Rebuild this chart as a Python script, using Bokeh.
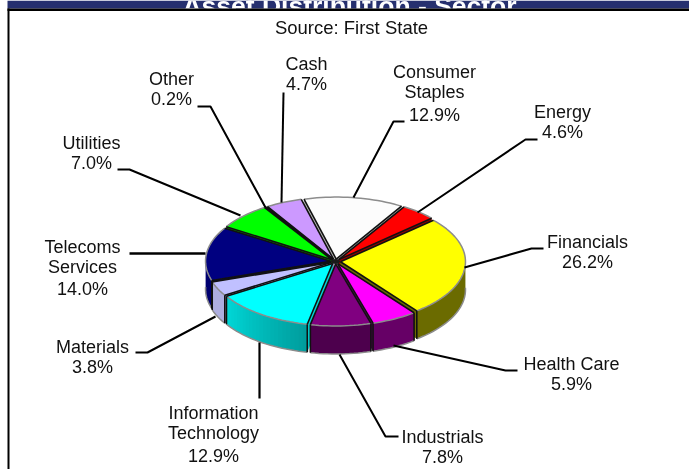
import math
from bokeh.plotting import figure
from bokeh.models import Range1d
from bokeh.core.properties import value
from bokeh.embed import file_html
from bokeh.resources import INLINE

# ---- data ----
sectors = ["Energy", "Financials", "Health Care", "Industrials", "Information Technology",
           "Materials", "Telecoms Services", "Utilities", "Other", "Cash", "Consumer Staples"]
weights = [4.6, 26.2, 5.9, 7.8, 12.9, 3.8, 14.0, 7.0, 0.2, 4.7, 12.9]
title_text = "Asset Distribution - Sector"
source_text = "Source: First State"

# ---- styles ----
top_colors = ["#ff0000", "#ffff00", "#ff00ff", "#800080", "#00ffff", "#c0c0ff",
              "#000080", "#00ff00", "#333333", "#cc99ff", "#fcfcfc"]
wall_from = ["#990000", "#6b6b00", "#660066", "#4d004d", "#00d8d8", "#aeaee0",
             "#000070", "#009900", "#222222", "#8a66b0", "#c0c0c0"]
wall_to = ["#990000", "#6b6b00", "#660066", "#4d004d", "#009c9c", "#aeaee0",
           "#000070", "#009900", "#222222", "#8a66b0", "#c0c0c0"]

# ---- layout: pie projection and annotation positions, in page pixels ----
CX, CY, RX, RY, DEPTH, EXPLODE = 335, 261, 125, 62, 28, 5
START_DEG = 31.5
label_lines = {
    "Energy": (["Energy"], [112], 562, 132),
    "Financials": (["Financials"], [242], 587, 262),
    "Health Care": (["Health Care"], [364], 571, 384),
    "Industrials": (["Industrials"], [437], 442, 457),
    "Information Technology": (["Information", "Technology"], [413, 433], 213, 456),
    "Materials": (["Materials"], [347], 92, 367),
    "Telecoms Services": (["Telecoms", "Services"], [247, 267], 82, 289),
    "Utilities": (["Utilities"], [143], 91, 163),
    "Other": (["Other"], [79], 171, 99),
    "Cash": (["Cash"], [64], 306, 84),
    "Consumer Staples": (["Consumer", "Staples"], [72, 92], 434, 115),
}
leaders = {
    "Energy": ([417, 525, 537], [212, 139, 139], 2),
    "Financials": ([464, 531, 543], [267, 248, 248], 2),
    "Health Care": ([393, 505, 517], [345, 370, 370], 2),
    "Industrials": ([339, 385, 398], [354, 436, 436], 2),
    "Information Technology": ([259, 259], [342, 398], 2.2),
    "Materials": ([215, 147, 135], [316, 352, 352], 2),
    "Telecoms Services": ([205, 129], [253, 253], 2.6),
    "Utilities": ([240, 129, 117], [215, 169, 169], 2),
    "Other": ([265, 210, 197], [207, 106, 106], 2),
    "Cash": ([281, 283], [202, 92], 2),
    "Consumer Staples": ([353, 393, 404], [197, 121, 121], 2),
}

FONT = "Liberation Sans"
p = figure(width=689, height=469, output_backend="svg", toolbar_location=None,
           x_range=Range1d(0, 689), y_range=Range1d(469, 0), min_border=0,
           outline_line_color=None, background_fill_color="white", border_fill_color="white")
p.axis.visible = False
p.grid.visible = False
p.styles = {"position": "fixed", "left": "0px", "top": "0px"}

# page frame
p.quad(left=[7], right=[689], top=[0], bottom=[8], fill_color="#26306f", line_color=None)
p.text(x=[349], y=[5], text=[title_text], text_color="white", text_align="center",
       text_baseline="alphabetic", text_font=value(FONT), text_font_style="bold",
       text_font_size="26.5px")
p.quad(left=[7], right=[689], top=[8], bottom=[10.5], fill_color="black", line_color=None)
p.quad(left=[7], right=[9], top=[8], bottom=[469], fill_color="black", line_color=None)
p.text(x=[351], y=[28], text=[source_text], text_color="#111111", text_align="center",
       text_baseline="middle", text_font=value(FONT), text_font_size="18.5px", y_offset=-1)


def hexmix(a, b, t):
    ca = [int(a[i:i + 2], 16) for i in (1, 3, 5)]
    cb = [int(b[i:i + 2], 16) for i in (1, 3, 5)]
    return "#%02x%02x%02x" % tuple(round(x + (y - x) * t) for x, y in zip(ca, cb))


# slices from the weights
total = sum(weights)
slices = []
acc = 0.0
for i, w in enumerate(weights):
    a0 = math.radians(START_DEG + acc / total * 360)
    acc += w
    a1 = math.radians(START_DEG + acc / total * 360)
    mid = (a0 + a1) / 2
    ox = CX + EXPLODE * math.sin(mid)
    oy = CY - EXPLODE * 0.49 * math.cos(mid)
    slices.append(dict(i=i, a0=a0, a1=a1, mid=mid, ox=ox, oy=oy))


def pt(s, a, drop=0.0):
    return s["ox"] + RX * math.sin(a), s["oy"] - RY * math.cos(a) + drop


xs, ys, fills = [], [], []
arc_x, arc_y = [], []
edge_x, edge_y = [], []
for s in sorted(slices, key=lambda q: -math.cos(q["mid"])):
    i, a0, a1 = s["i"], s["a0"], s["a1"]
    n = max(3, int(math.degrees(a1 - a0) / 2))
    angs = [a0 + (a1 - a0) * k / n for k in range(n + 1)]
    # radial cut faces
    for a in (a0, a1):
        ex, ey = pt(s, a)
        xs.append([s["ox"], ex, ex, s["ox"]])
        ys.append([s["oy"], ey, ey + DEPTH, s["oy"] + DEPTH])
        fills.append(wall_from[i])
    # outer wall: one polygon when flat, overlapping strips when shaded
    low = [a for a in angs if math.cos(a) < 0.05]
    if len(low) > 1:
        if wall_from[i] == wall_to[i]:
            up = [pt(s, a) for a in low]
            xs.append([q[0] for q in up] + [q[0] for q in reversed(up)])
            ys.append([q[1] for q in up] + [q[1] + DEPTH for q in reversed(up)])
            fills.append(wall_from[i])
        else:
            m = len(low) - 1
            for k in range(m):
                x0, y0 = pt(s, low[k])
                x1, y1 = pt(s, low[min(k + 2, m)])
                xs.append([x0, x1, x1, x0])
                ys.append([y0, y1, y1 + DEPTH, y0 + DEPTH])
                fills.append(hexmix(wall_to[i], wall_from[i], (k + 0.5) / m))
    # top
    outer = [pt(s, a) for a in angs]
    xs.append([s["ox"]] + [q[0] for q in outer])
    ys.append([s["oy"]] + [q[1] for q in outer])
    fills.append(top_colors[i])
    arc_x.append([q[0] for q in outer])
    arc_y.append([q[1] for q in outer])
    for a in (a0, a1):
        ex, ey = pt(s, a)
        edge_x.append([s["ox"], ex])
        edge_y.append([s["oy"], ey])
    # vertical wall edges and lower rim
    for a in (a0, a1):
        if math.cos(a) < 0.1:
            ex, ey = pt(s, a)
            edge_x.append([ex, ex])
            edge_y.append([ey, ey + DEPTH])
    if len(low) > 1:
        arc_x.append([pt(s, a)[0] for a in low])
        arc_y.append([pt(s, a, DEPTH)[1] for a in low])

p.patches(xs, ys, fill_color=fills, line_color=None)
p.multi_line(arc_x, arc_y, line_color="#8c8c8c", line_width=1.5)
p.multi_line(edge_x, edge_y, line_color="#111111", line_width=1.6)
# dark hub where the pulled-apart slices meet
p.patch([s["ox"] for s in slices], [s["oy"] for s in slices], fill_color="#1a1a1a", line_color=None)

# leaders and labels
for name, w in zip(sectors, weights):
    lx, ly, lw = leaders[name]
    p.line(lx, ly, line_color="black", line_width=lw)
    lines, ypos, px, py = label_lines[name]
    p.text(x=[px] * (len(lines) + 1), y=ypos + [py], text=lines + [f"{w:.1f}%"],
           text_color="#111111", text_align="center", text_baseline="middle",
           text_font=value(FONT), text_font_size="18px", y_offset=-1)

open("out.html", "w").write(file_html(p, INLINE))
